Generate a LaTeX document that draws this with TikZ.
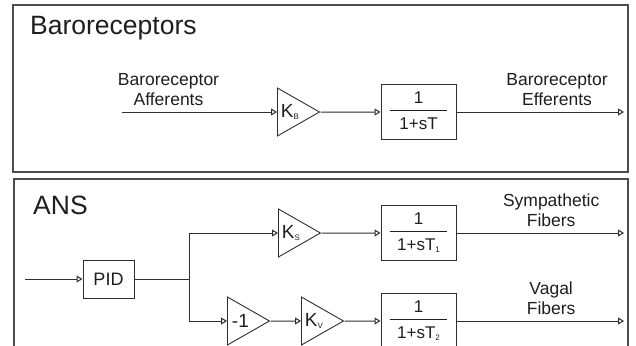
\documentclass[tikz,border=0pt]{standalone}
\usepackage{fontspec}
\setmainfont{Liberation Sans}
\usetikzlibrary{arrows.meta,shapes.geometric}
\definecolor{strich}{HTML}{2E2E2E}
\definecolor{rand}{HTML}{4D4D4D}
\definecolor{schrift}{HTML}{1E1E1E}
\tikzset{
  sig/.style={-{Triangle[open,length=6pt,width=7pt]},strich,line width=1pt},
  leit/.style={strich,line width=1pt},
  verst/.style={draw=strich,line width=0.9pt,isosceles triangle,isosceles triangle stretches,
    minimum width=48pt,minimum height=42pt,inner sep=0pt,anchor=west,
    font=\fontsize{19}{20}\selectfont,text=schrift},
  block/.style={draw=strich,line width=1pt,minimum width=75pt,minimum height=55pt,inner sep=0pt,
    font=\fontsize{17}{20}\selectfont,text=schrift},
  rahmen/.style={rand,line width=1.4pt},
  titel/.style={anchor=base west,inner sep=0pt,font=\fontsize{26.5}{30}\selectfont,text=schrift},
  lbl/.style={align=center,inner sep=0pt,font=\fontsize{17.5}{20}\selectfont,text=schrift},
}
\newcommand{\idx}[1]{\raisebox{-2.5pt}{\fontsize{8}{8}\selectfont #1}}
\newcommand{\uebertr}[1]{{\setlength{\arrayrulewidth}{1pt}%
  \begin{tabular}{@{}c@{}}\makebox[57pt]{1}\\[1pt]\hline\rule{0pt}{18pt}#1\end{tabular}}}

\begin{document}
\begin{tikzpicture}[x=1pt,y=-1pt]
  \useasboundingbox (0,0) rectangle (636,345);
  \clip (0,0) rectangle (636,345);
  % Baroreceptors
  \draw[rahmen] (13,5) rectangle (628,172);
  \node[titel] (tb) at (30,35) {Baroreceptors};
  \coordinate (ein) at (122,112);
  \coordinate (aus) at (624,112);
  \node[verst] (kb) at (277,112) {K\idx{B}};
  \node[block] (hb) at (418.5,112) {\uebertr{1+sT}};
  \draw[sig] (ein) -- node[lbl,above=6pt,pos=0.3]{Baroreceptor\\Afferents} (kb.west);
  \draw[sig] (kb.apex) -- (hb);
  \draw[sig] (hb) -- node[lbl,above=6pt,pos=0.6]{Baroreceptor\\Efferents} (aus);
  % ANS
  \draw[rahmen] (14,350) |- (628,179) -- (628,350);
  \node[titel] (ta) at (33,214) {ANS};
  \coordinate (ein2) at (25,279);
  \coordinate (abzw) at (189,279);
  \coordinate (sym) at (624,233);
  \coordinate (vag) at (624,321);
  \node[block,minimum width=51pt,minimum height=38pt,font=\fontsize{18}{20}\selectfont] (pid) at (108.5,279) {PID};
  \node[verst] (ks) at (278,233) {K\idx{S}};
  \node[block] (hs) at (418.5,233) {\uebertr{1+sT\idx{1}}};
  \node[verst] (neg) at (227,321) {-1};
  \node[verst] (kv) at (301,321) {K\idx{V}};
  \node[block] (hv) at (418.5,321) {\uebertr{1+sT\idx{2}}};
  \draw[sig] (ein2) -- (pid);
  \draw[leit] (pid) -- (abzw);
  \draw[sig] (abzw) |- (ks.west);
  \draw[sig] (abzw) |- (neg.west);
  \draw[sig] (ks.apex) -- (hs);
  \draw[sig] (neg.apex) -- (kv.west);
  \draw[sig] (kv.apex) -- (hv);
  \draw[sig] (hs) -- node[lbl,above=6pt,pos=0.565]{Sympathetic\\Fibers} (sym);
  \draw[sig] (hv) -- node[lbl,above=6pt,pos=0.565]{Vagal\\Fibers} (vag);
\end{tikzpicture}
\end{document}
